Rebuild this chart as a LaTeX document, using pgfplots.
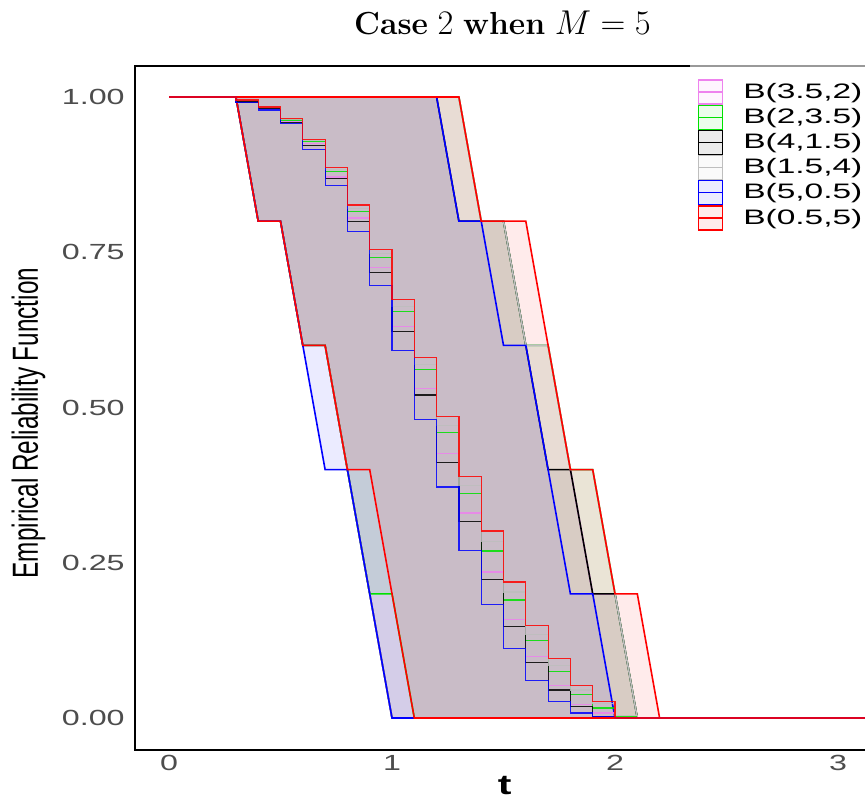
\documentclass[border=0pt]{standalone}
\usepackage{fontspec}
\usepackage{pgfplots}
\pgfplotsset{compat=1.18}
\usepackage{pgfplotstable}
\usepgfplotslibrary{fillbetween}
\newfontfamily\tickfont[FakeStretch=1.47]{Liberation Sans}
\newfontfamily\legfont[FakeStretch=1.6]{Liberation Sans}
\newfontfamily\ylabfont[FakeStretch=0.67]{Liberation Sans}
\definecolor{cviolet}{RGB}{238,130,238}
\definecolor{cgreen}{RGB}{0,225,0}
\definecolor{cgray}{RGB}{190,190,190}
\definecolor{cblue}{RGB}{0,0,255}
\definecolor{cred}{RGB}{255,0,0}
\definecolor{tickgray}{RGB}{77,77,77}

% columns: t, lower band L, upper band U, step estimate S
\pgfplotstableread{
t L U S
0 1 1 1
0.3 1 1 0.993
0.4 0.8 1 0.982
0.5 0.8 1 0.960
0.6 0.6 1 0.925
0.7 0.6 1 0.871
0.8 0.4 1 0.805
0.9 0.2 1 0.725
1.0 0 1 0.631
1.1 0 1 0.531
1.2 0 1 0.426
1.3 0 1 0.330
1.4 0 0.8 0.235
1.5 0 0.8 0.158
1.6 0 0.6 0.099
1.7 0 0.6 0.053
1.8 0 0.4 0.022
1.9 0 0.2 0.008
2.0 0 0.2 0
2.1 0 0 0
2.2 0 0 0
3.4 0 0 0
}\tviolet
\pgfplotstableread{
t L U S
0 1 1 1
0.3 1 1 0.994
0.4 0.8 1 0.983
0.5 0.8 1 0.963
0.6 0.6 1 0.928
0.7 0.6 1 0.880
0.8 0.4 1 0.816
0.9 0.2 1 0.741
1.0 0.2 1 0.655
1.1 0 1 0.561
1.2 0 1 0.460
1.3 0 1 0.361
1.4 0 0.8 0.269
1.5 0 0.8 0.190
1.6 0 0.6 0.125
1.7 0 0.6 0.075
1.8 0 0.4 0.038
1.9 0 0.4 0.016
2.0 0 0.2 0.003
2.1 0 0 0
2.2 0 0 0
3.4 0 0 0
}\tgreen
\pgfplotstableread{
t L U S
0 1 1 1
0.3 1 1 0.992
0.4 0.8 1 0.981
0.5 0.8 1 0.959
0.6 0.6 1 0.922
0.7 0.6 1 0.869
0.8 0.4 1 0.799
0.9 0.2 1 0.718
1.0 0 1 0.622
1.1 0 1 0.520
1.2 0 1 0.412
1.3 0 0.8 0.317
1.4 0 0.8 0.223
1.5 0 0.8 0.148
1.6 0 0.6 0.090
1.7 0 0.4 0.045
1.8 0 0.4 0.018
1.9 0 0.2 0.003
2.0 0 0.2 0
2.1 0 0 0
2.2 0 0 0
3.4 0 0 0
}\tblack
\pgfplotstableread{
t L U S
0 1 1 1
0.3 1 1 0.994
0.4 0.8 1 0.984
0.5 0.8 1 0.964
0.6 0.6 1 0.930
0.7 0.6 1 0.883
0.8 0.4 1 0.820
0.9 0.2 1 0.748
1.0 0 1 0.662
1.1 0 1 0.569
1.2 0 1 0.471
1.3 0 1 0.374
1.4 0 0.8 0.284
1.5 0 0.8 0.203
1.6 0 0.6 0.134
1.7 0 0.6 0.085
1.8 0 0.4 0.045
1.9 0 0.4 0.023
2.0 0 0.2 0.004
2.1 0 0 0
2.2 0 0 0
3.4 0 0 0
}\tgray
\pgfplotstableread{
t L U S
0 1 1 1
0.3 1 1 0.991
0.4 0.8 1 0.979
0.5 0.8 1 0.957
0.6 0.6 1 0.916
0.7 0.4 1 0.858
0.8 0.4 1 0.784
0.9 0.2 1 0.696
1.0 0 1 0.592
1.1 0 1 0.481
1.2 0 1 0.372
1.3 0 0.8 0.270
1.4 0 0.8 0.183
1.5 0 0.6 0.112
1.6 0 0.6 0.060
1.7 0 0.4 0.026
1.8 0 0.2 0.008
1.9 0 0.2 0.002
2.0 0 0 0
2.1 0 0 0
2.2 0 0 0
3.4 0 0 0
}\tblue
\pgfplotstableread{
t L U S
0 1 1 1
0.3 1 1 0.995
0.4 0.8 1 0.984
0.5 0.8 1 0.965
0.6 0.6 1 0.932
0.7 0.6 1 0.886
0.8 0.4 1 0.826
0.9 0.4 1 0.755
1.0 0.2 1 0.674
1.1 0 1 0.581
1.2 0 1 0.486
1.3 0 1 0.389
1.4 0 0.8 0.301
1.5 0 0.8 0.219
1.6 0 0.8 0.149
1.7 0 0.6 0.096
1.8 0 0.4 0.053
1.9 0 0.4 0.026
2.0 0 0.2 0
2.1 0 0.2 0
2.2 0 0 0
3.4 0 0 0
}\tred

\newcommand{\band}[2]{%
  \addplot[draw=none, name path=L#2, forget plot] table[x=t,y=L]{#1};
  \addplot[draw=none, name path=U#2, forget plot] table[x=t,y=U]{#1};
  \addplot[fill=#2, fill opacity=0.08, draw=none, forget plot] fill between[of=L#2 and U#2];
  \addplot[#2, line width=0.8bp, forget plot] table[x=t,y=L]{#1};
  \addplot[#2, line width=0.8bp, forget plot] table[x=t,y=U]{#1};
}
\newcommand{\steps}[2]{%
  \addplot[#2, const plot, line width=0.6bp, opacity=0.85, forget plot] table[x=t,y=S]{#1};
}
\pgfplotsset{bkey/.style={legend image code/.code={%
  \draw[draw=#1, fill=#1!8, line width=0.6bp, fill opacity=1, draw opacity=1] (0bp,-6bp) rectangle (12bp,6bp);
  \draw[#1, line width=0.6bp, draw opacity=1] (0bp,0bp) -- (12bp,0bp);}}}

\begin{document}
\begin{tikzpicture}
\begin{axis}[
  at={(67.5bp,25bp)}, anchor=south west,
  width=367.5bp, height=342bp, scale only axis,
  xmin=-0.1525, xmax=3.1435, ymin=-0.0515, ymax=1.0499,
  clip mode=individual,
  xtick={0,1,2,3}, xticklabels={0,1,2,3},
  ytick={0,0.25,0.5,0.75,1}, yticklabels={0.00,0.25,0.50,0.75,1.00},
  major tick length=0,
  axis line style={line width=0.75bp},
  yticklabel style={font=\tickfont\fontsize{11}{13}\selectfont, text=tickgray, anchor=east, inner sep=0pt, xshift=-5bp},
  xticklabel style={font=\tickfont\fontsize{11}{13}\selectfont, text=tickgray, anchor=north, inner sep=0pt, yshift=-2.5bp},
  xlabel={t},
  xlabel style={font=\tickfont\bfseries\fontsize{14}{16}\selectfont, at={(axis description cs:0.503,-0.0526)}, anchor=center, inner sep=0pt},
  ylabel={Empirical Reliability Function},
  ylabel style={font=\ylabfont\fontsize{18.2}{20}\selectfont, at={(axis description cs:-0.1449,0.478)}, anchor=center, inner sep=0pt},
  legend style={at={(axis description cs:0.7551,1)}, anchor=north west, yshift=0.5bp,
    draw=none, fill=white, fill opacity=0.6, text opacity=1,
    inner xsep=3.85bp, inner ysep=7bp, row sep=0bp,
    font=\legfont\fontsize{10.5}{12}\selectfont,
    nodes={inner sep=0.5bp},
    /tikz/every odd column/.style={column sep=9.5bp}},
  legend cell align=left,
]
\band{\tviolet}{cviolet}
\band{\tgreen}{cgreen}
\band{\tblack}{black}
\band{\tgray}{cgray}
\band{\tblue}{cblue}
\band{\tred}{cred}
\steps{\tviolet}{cviolet}
\steps{\tgreen}{cgreen}
\steps{\tblack}{black}
\steps{\tgray}{cgray}
\steps{\tblue}{cblue}
\steps{\tred}{cred}
\addlegendimage{bkey=cviolet}\addlegendentry{B(3.5,2)}
\addlegendimage{bkey=cgreen}\addlegendentry{B(2,3.5)}
\addlegendimage{bkey=black}\addlegendentry{B(4,1.5)}
\addlegendimage{bkey=cgray}\addlegendentry{B(1.5,4)}
\addlegendimage{bkey=cblue}\addlegendentry{B(5,0.5)}
\addlegendimage{bkey=cred}\addlegendentry{B(0.5,5)}
\node[anchor=base, inner sep=0pt, font=\fontsize{16}{19}\selectfont] at (axis description cs:0.5,1.0463) {\textbf{Case} $2$ \textbf{when} $M=5$};
\end{axis}
\pgfresetboundingbox
\path (0,0) rectangle (432.5bp,400bp);
\end{tikzpicture}
\end{document}
